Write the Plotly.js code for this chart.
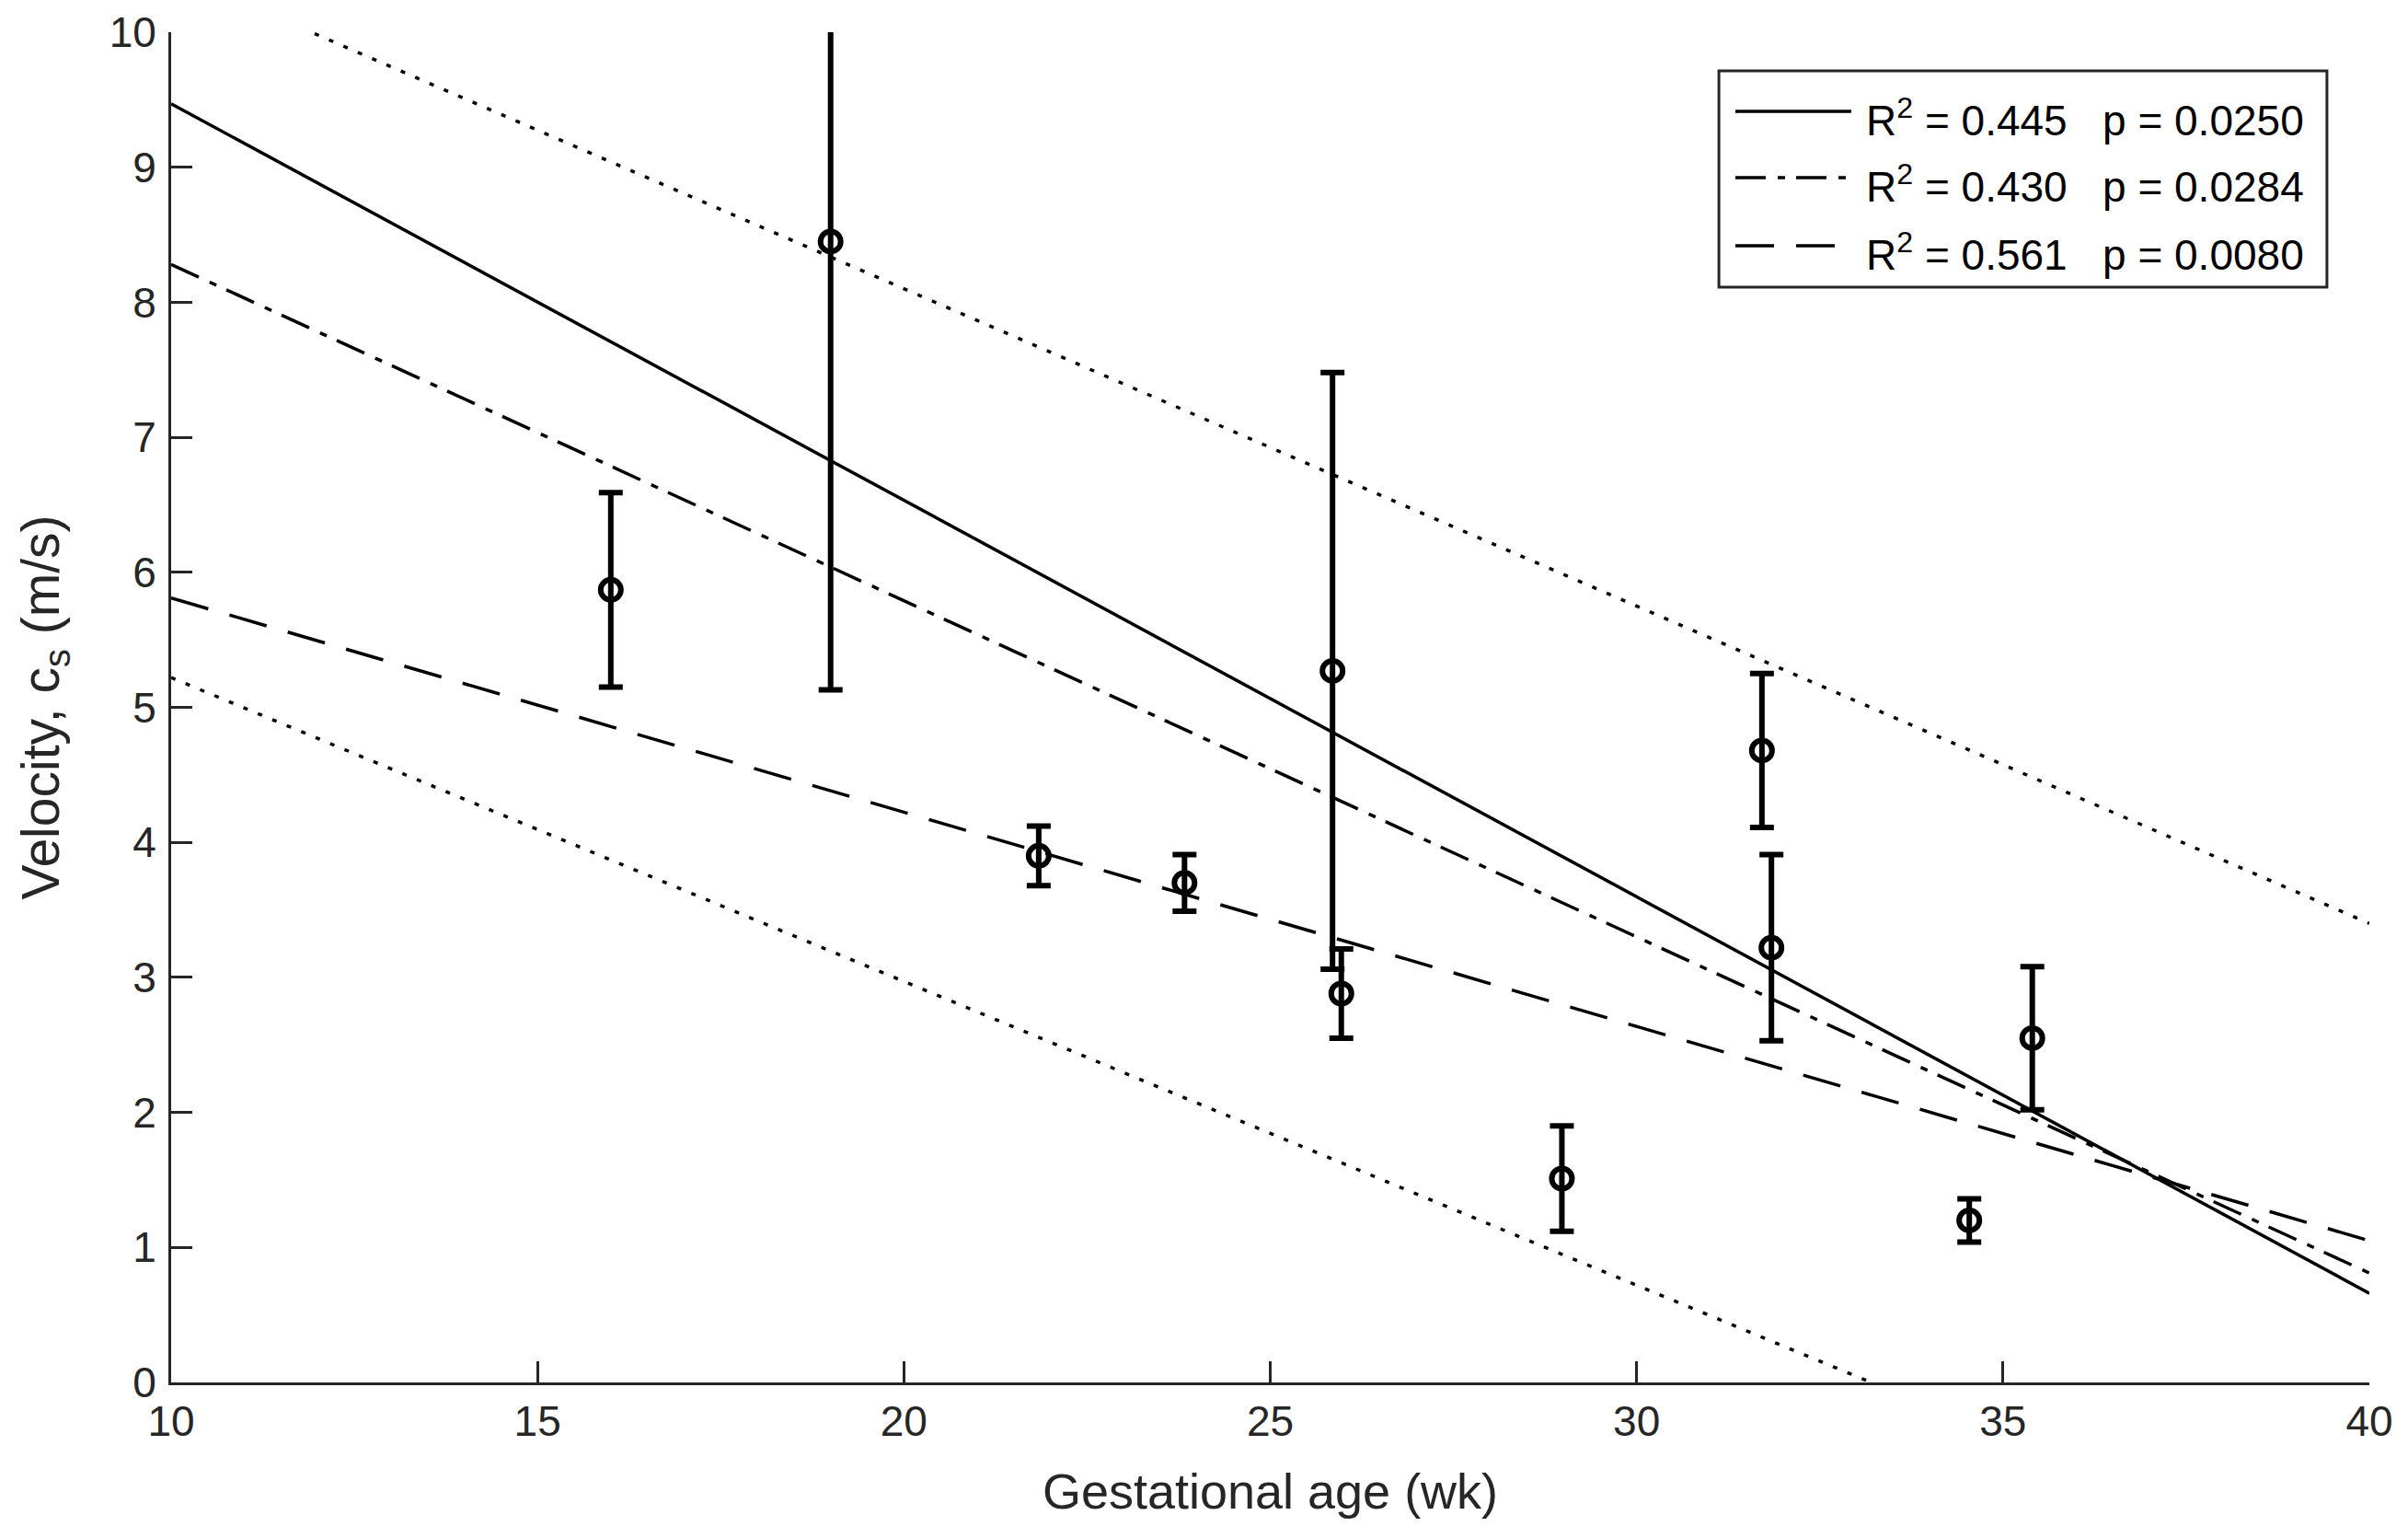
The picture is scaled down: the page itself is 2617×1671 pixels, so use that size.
<!DOCTYPE html>
<html>
<head>
<meta charset="utf-8">
<script src="https://cdn.plot.ly/plotly-3.0.1.min.js"></script>
<style>
  html, body { margin: 0; padding: 0; background: #ffffff; }
  #grafica { width: 2617px; height: 1671px; }
</style>
</head>
<body>
<div id="grafica"></div>
<script>
// measured points (gestational age vs shear wave velocity)
var edad = [16.0, 19.0, 21.84, 23.83, 25.85, 25.97, 28.98, 31.71, 31.84, 34.54, 35.40];
var velocidad = [5.87, 8.45, 3.90, 3.70, 5.27, 2.88, 1.51, 4.68, 3.22, 1.20, 2.55];
var desviacion = [0.72, 3.32, 0.22, 0.21, 2.21, 0.33, 0.39, 0.57, 0.69, 0.16, 0.53];

// fitted lines, value at each end of the x range
var x_ajuste = [10, 40];
var ajuste_1 = [9.47, 0.66];
var ajuste_2 = [8.28, 0.81];
var ajuste_3 = [5.81, 1.05];
var banda_sup = [10.45, 3.40];
var banda_inf = [5.22, -1.53];

var nombres = [
    'R<sup>2</sup> = 0.445\u00a0\u00a0\u00a0p = 0.0250',
    'R<sup>2</sup> = 0.430\u00a0\u00a0\u00a0p = 0.0284',
    'R<sup>2</sup> = 0.561\u00a0\u00a0\u00a0p = 0.0080'
];

var gris = '#262626';
var estilos = ['solid', '33px,13px,8px,12px', '42px,24px'];

function grafica_velocidad(){
    var ajustes = [ajuste_1, ajuste_2, ajuste_3];
    var data = ajustes.map(function(a, i){
        return {
            x: x_ajuste, y: a, type: 'scatter', mode: 'lines',
            name: nombres[i], showlegend: false,
            line: {color: '#000000', width: 3.5, dash: estilos[i]}
        };
    });

    data.push({
        x: x_ajuste, y: banda_sup, type: 'scatter', mode: 'lines',
        showlegend: false, hoverinfo: 'skip',
        line: {color: '#000000', width: 3.5, dash: '5px,12px'}
    });
    data.push({
        x: x_ajuste, y: banda_inf, type: 'scatter', mode: 'lines',
        showlegend: false, hoverinfo: 'skip',
        line: {color: '#000000', width: 3.5, dash: '5px,12px'}
    });
    data.push({
        x: edad, y: velocidad, type: 'scatter', mode: 'markers',
        showlegend: false,
        marker: {symbol: 'circle-open', size: 22, color: '#000000', line: {width: 6, color: '#000000'}},
        error_y: {type: 'data', array: desviacion, visible: true, color: '#000000', thickness: 6, width: 13}
    });

    // legend box drawn by hand so the line samples are as long as in the original
    var filas = [0.9414, 0.8923, 0.8419];
    var shapes = [{
        type: 'rect', xref: 'paper', yref: 'paper',
        x0: 0.7041, x1: 0.9807, y0: 0.8112, y1: 0.9714,
        line: {color: gris, width: 3}, fillcolor: '#ffffff', layer: 'above'
    }];
    var annotations = [];
    var largo = [0.7643, 0.7622, 0.7572];
    filas.forEach(function(fy, i){
        shapes.push({
            type: 'line', xref: 'paper', yref: 'paper',
            x0: 0.7116, x1: largo[i], y0: fy, y1: fy,
            line: {color: '#000000', width: 3.5, dash: estilos[i]}, layer: 'above'
        });
        annotations.push({
            xref: 'paper', yref: 'paper', x: 0.7706, y: fy - 0.005,
            xanchor: 'left', yanchor: 'middle', align: 'left', showarrow: false,
            width: 480, borderpad: 0,
            text: nombres[i], font: {size: 46, color: '#000000'}
        });
    });

    var layout = {
        width: 2617,
        height: 1671,
        margin: {l: 186, r: 42, t: 35, b: 169},
        paper_bgcolor: '#ffffff',
        plot_bgcolor: '#ffffff',
        font: {family: 'Liberation Sans, Arial, sans-serif', size: 46, color: gris},
        showlegend: false,
        shapes: shapes,
        annotations: annotations,
        xaxis: {
            range: [10, 40], tickvals: [10, 15, 20, 25, 30, 35, 40],
            showgrid: false, zeroline: false,
            showline: true, linecolor: gris, linewidth: 3, mirror: false,
            ticks: 'inside', ticklen: 23, tickwidth: 3, tickcolor: gris,
            tickfont: {size: 46, color: gris},
            title: {text: 'Gestational age (wk)', font: {size: 54, color: gris}, standoff: 32}
        },
        yaxis: {
            range: [0, 10], tickvals: [0, 1, 2, 3, 4, 5, 6, 7, 8, 9, 10],
            showgrid: false, zeroline: false,
            showline: true, linecolor: gris, linewidth: 3, mirror: false,
            ticks: 'inside', ticklen: 23, tickwidth: 3, tickcolor: gris,
            ticklabelstandoff: 4,
            tickfont: {size: 46, color: gris},
            title: {text: 'Velocity, c<sub>s</sub> (m/s)', font: {size: 57, color: gris}, standoff: 36}
        }
    };

    Plotly.newPlot('grafica', data, layout, {staticPlot: true});
}

grafica_velocidad();
</script>
</body>
</html>
